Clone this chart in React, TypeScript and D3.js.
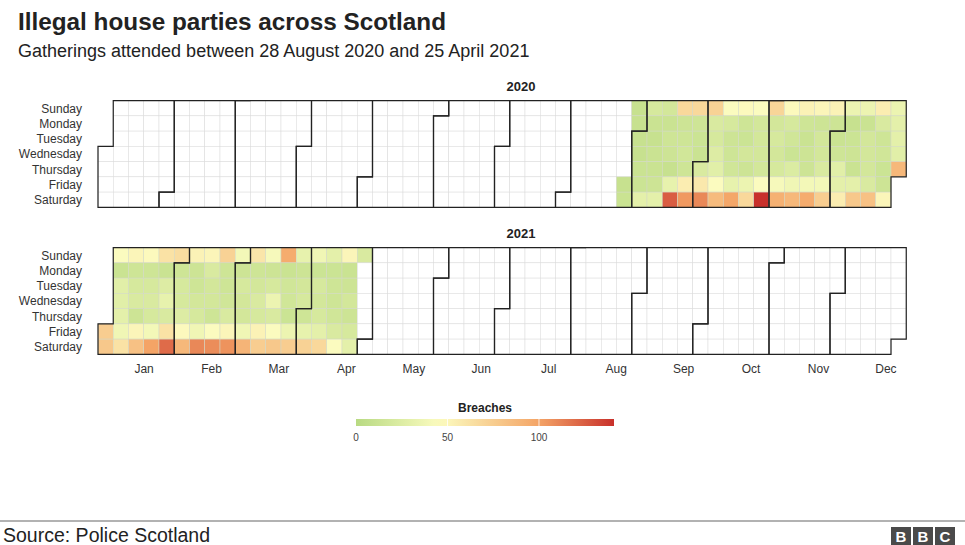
import React from 'react';
import * as d3 from 'd3';

const DAYS = ['Sunday', 'Monday', 'Tuesday', 'Wednesday', 'Thursday', 'Friday', 'Saturday'];
const MONTHS = ['Jan', 'Feb', 'Mar', 'Apr', 'May', 'Jun', 'Jul', 'Aug', 'Sep', 'Oct', 'Nov', 'Dec'];
const YEARS = [2020, 2021];

// Daily breaches, chronological, starting Fri 28 Aug 2020 (each line = one Sun..Sat week)
const START_2020 = [2020, 7, 28];
const breaches2020 = [
  10, 12,
  10, 10, 10, 10, 12, 13, 30,
  20, 12, 10, 12, 12, 14, 30,
  18, 12, 15, 14, 10, 32, 125,
  68, 14, 15, 17, 15, 55, 104,
  68, 15, 13, 12, 22, 58, 110,
  72, 22, 20, 25, 28, 45, 86,
  45, 20, 14, 15, 16, 32, 98,
  48, 15, 13, 18, 14, 35, 68,
  45, 18, 18, 18, 18, 45, 141,
  70, 18, 20, 18, 20, 42, 92,
  48, 20, 16, 13, 24, 38, 88,
  52, 15, 12, 14, 14, 40, 95,
  50, 14, 18, 18, 22, 40, 75,
  52, 14, 12, 15, 28, 30, 55,
  35, 10, 13, 14, 12, 30, 78,
  35, 12, 18, 18, 18, 22, 82,
  55, 22, 15, 16, 13, 14, 50,
  35, 30, 30, 28, 88,
];

// Daily breaches, chronological, starting Fri 1 Jan 2021 to Sun 25 Apr 2021
const START_2021 = [2021, 0, 1];
const breaches2021 = [
  75, 78,
  45, 12, 28, 28, 30, 38, 62,
  50, 15, 20, 22, 14, 50, 82,
  48, 15, 20, 22, 20, 40, 100,
  62, 12, 25, 32, 22, 62, 120,
  65, 15, 20, 20, 25, 48, 88,
  52, 14, 15, 18, 20, 38, 110,
  50, 22, 18, 18, 15, 45, 108,
  72, 15, 15, 16, 22, 50, 106,
  40, 14, 20, 18, 18, 38, 90,
  60, 15, 18, 22, 20, 52, 75,
  42, 14, 20, 35, 22, 45, 78,
  95, 12, 16, 16, 13, 35, 75,
  32, 14, 18, 20, 15, 32, 72,
  38, 13, 20, 18, 20, 30, 68,
  30, 13, 15, 15, 16, 22, 45,
  50, 12, 14, 18, 14, 20, 30,
  22,
];

const LEGEND_TICKS = [0, 50, 100];
const LEGEND_MAX = 141;
const COLOR_STOPS = [0, 46, 100, 141];
const COLOR_RANGE = ['#b8da82', '#fcfcc0', '#f4a466', '#c8302b'];

const W = 965;
const H = 545;
const CELL = 15.25;
const GRID_LEFT = 98;
const PANEL_TOP: Record<number, number> = { 2020: 100.6, 2021: 247.6 };
const FONT = 'Liberation Sans, Arial, Helvetica, sans-serif';

function buildSeries(start: number[], values: number[]) {
  const s = new Date(start[0], start[1], start[2]);
  const m = new Map<string, number>();
  values.forEach((v, i) => {
    const d = d3.timeDay.offset(s, i);
    m.set(d3.timeFormat('%Y-%m-%d')(d), v);
  });
  return m;
}

export default function App() {
  const data = new Map<string, number>([
    ...buildSeries(START_2020, breaches2020),
    ...buildSeries(START_2021, breaches2021),
  ]);
  const fmt = d3.timeFormat('%Y-%m-%d');
  const color = d3.scaleLinear<string>().domain(COLOR_STOPS).range(COLOR_RANGE).interpolate(d3.interpolateRgb);
  const x = d3.scaleLinear().domain([0, 53]).range([GRID_LEFT, GRID_LEFT + 53 * CELL]);
  const y = d3.scaleLinear().domain([0, 7]).range([0, 7 * CELL]);
  const weekOf = (d: Date) => d3.timeWeek.count(d3.timeYear(d), d);

  const monthPath = (t0: Date, top: number) => {
    const t1 = new Date(t0.getFullYear(), t0.getMonth() + 1, 1);
    const d0 = t0.getDay();
    const w0 = weekOf(t0);
    const d1 = t1.getDay();
    const w1 = t1.getFullYear() !== t0.getFullYear() ? d3.timeWeek.count(d3.timeYear(t0), t1) : weekOf(t1);
    return `M${x(w0 + 1)},${top + y(d0)}H${x(w0)}V${top + y(7)}H${x(w1)}V${top + y(d1)}H${x(w1 + 1)}V${top}H${x(w0 + 1)}Z`;
  };

  const monthX = d3.scalePoint<string>().domain(MONTHS).range([x(3.02), x(51.67)]);
  const legendX = d3.scaleLinear().domain([0, LEGEND_MAX]).range([356, 614]);
  const gradStops = d3.range(0, 1.0001, 0.05).map((t) => ({ t, c: color(t * LEGEND_MAX) }));

  return (
    <svg width={W} height={H} style={{ position: 'absolute', left: 0, top: 0, display: 'block', background: '#fff' }}
      fontFamily={FONT}>
      <defs>
        <linearGradient id="lg" x1="0" x2="1" y1="0" y2="0">
          {gradStops.map((s, i) => (
            <stop key={i} offset={s.t} stopColor={s.c} />
          ))}
        </linearGradient>
      </defs>
      <text x={18} y={30} fontSize={24.3} fontWeight="bold" fill="#222">Illegal house parties across Scotland</text>
      <text x={18} y={57} fontSize={18} fill="#222">Gatherings attended between 28 August 2020 and 25 April 2021</text>

      {YEARS.map((yr) => {
        const top = PANEL_TOP[yr];
        const days = d3.timeDays(new Date(yr, 0, 1), new Date(yr + 1, 0, 1));
        const months = d3.timeMonths(new Date(yr, 0, 1), new Date(yr + 1, 0, 1));
        return (
          <g key={yr}>
            <text x={521} y={top - 10} textAnchor="middle" fontSize={13} fontWeight="bold" fill="#222">{yr}</text>
            {DAYS.map((dn, i) => (
              <text key={dn} x={82} y={top + y(i + 0.5) + 4.5} textAnchor="end" fontSize={12} fill="#333">{dn}</text>
            ))}
            {days.map((d) => {
              const v = data.get(fmt(d));
              return (
                <rect key={fmt(d)} x={x(weekOf(d))} y={top + y(d.getDay())} width={CELL} height={CELL}
                  fill={v === undefined ? '#ffffff' : color(v)} stroke={v === undefined ? '#dadada' : '#d2d8c6'}
                  strokeWidth={0.5} />
              );
            })}
            {months.map((m) => (
              <path key={m.getMonth()} d={monthPath(m, top)} fill="none" stroke="#222" strokeWidth={1.2} />
            ))}
          </g>
        );
      })}

      {MONTHS.map((m) => (
        <text key={m} x={monthX(m)} y={373} textAnchor="middle" fontSize={12} fill="#333">{m}</text>
      ))}

      <text x={485} y={412} textAnchor="middle" fontSize={12} fontWeight="bold" fill="#222">Breaches</text>
      <rect x={legendX(0)} y={419} width={legendX(LEGEND_MAX) - legendX(0)} height={7} fill="url(#lg)" />
      {LEGEND_TICKS.filter((t) => t > 0).map((t) => (
        <line key={t} x1={legendX(t)} x2={legendX(t)} y1={419} y2={426} stroke="#fff" strokeWidth={0.8} />
      ))}
      {LEGEND_TICKS.map((t) => (
        <text key={t} x={legendX(t)} y={441} textAnchor="middle" fontSize={10} fill="#444">{t}</text>
      ))}

      <line x1={0} x2={W} y1={521} y2={521} stroke="#999" strokeWidth={1.5} />
      <text x={3} y={542} fontSize={19.5} fill="#222">Source: Police Scotland</text>
      {['B', 'B', 'C'].map((l, i) => (
        <g key={i}>
          <rect x={891 + i * 22} y={527} width={20} height={18} fill="#4a4a4a" />
          <text x={901 + i * 22} y={542} textAnchor="middle" fontSize={15} fontWeight="bold" fill="#fff">{l}</text>
        </g>
      ))}
    </svg>
  );
}
